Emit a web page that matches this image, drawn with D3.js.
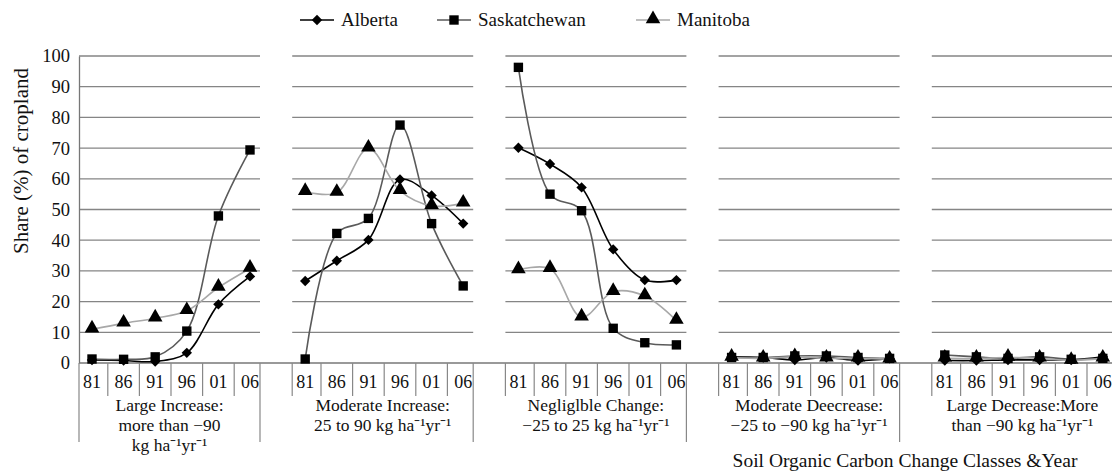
<!DOCTYPE html>
<html>
<head>
<meta charset="utf-8">
<script src="https://cdn.jsdelivr.net/npm/d3@7"></script>
<style>
  html, body { margin: 0; padding: 0; background: #fff; }
  svg { display: block; font-family: "Liberation Serif", "Times New Roman", serif; }
</style>
</head>
<body>
<svg id="chart" width="1112" height="472"></svg>
<script>
// Census years shown under every change class
const years = ["81", "86", "91", "96", "01", "06"];

// Soil organic carbon change classes (label lines for each class)
const classLabels = [
  ["Large Increase:", "more than \u221290", "kg ha\u207B\u00B9yr\u207B\u00B9"],
  ["Moderate Increase:", "25 to 90 kg ha\u207B\u00B9yr\u207B\u00B9"],
  ["Negliglble Change:", "\u221225 to 25 kg ha\u207B\u00B9yr\u207B\u00B9"],
  ["Moderate Deecrease:", "\u221225 to \u221290 kg ha\u207B\u00B9yr\u207B\u00B9"],
  ["Large Decrease:More", "than \u221290 kg ha\u207B\u00B9yr\u207B\u00B9"]
];

// Share (%) of cropland, one row per change class, one value per year
const albertaShare = [
  [1.0, 0.8, 0.5, 3.3, 19.1, 28.2],
  [26.7, 33.3, 40.1, 59.8, 54.6, 45.4],
  [70.1, 64.8, 57.2, 37.0, 27.0, 27.0],
  [2.0, 1.8, 1.0, 1.8, 0.8, 1.5],
  [0.8, 0.8, 1.0, 1.0, 1.0, 2.0]
];
const saskatchewanShare = [
  [1.3, 1.2, 2.0, 10.4, 47.9, 69.4],
  [1.3, 42.2, 47.1, 77.5, 45.4, 25.1],
  [96.3, 55.0, 49.6, 11.3, 6.6, 5.9],
  [1.8, 1.8, 2.3, 2.3, 1.8, 1.5],
  [2.6, 2.0, 1.5, 2.0, 1.2, 1.5]
];
const manitobaShare = [
  [11.0, 12.9, 14.6, 17.0, 24.6, 30.8],
  [55.8, 55.5, 69.9, 56.1, 51.2, 52.0],
  [30.3, 30.7, 14.9, 23.2, 21.8, 13.8],
  [1.8, 1.5, 2.0, 1.5, 1.5, 1.2],
  [1.5, 1.5, 1.8, 1.5, 0.8, 1.5]
];

const yTicks = [0, 10, 20, 30, 40, 50, 60, 70, 80, 90, 100];
const provinceNames = ["Alberta", "Saskatchewan", "Manitoba"];

const series = [
  { name: provinceNames[0], values: albertaShare, stroke: "#000000", symbol: "diamond" },
  { name: provinceNames[1], values: saskatchewanShare, stroke: "#5a5a5a", symbol: "square" },
  { name: provinceNames[2], values: manitobaShare, stroke: "#a8a8a8", symbol: "triangle" }
];

const svg = d3.select("#chart");
const FONT = 18;

// vertical scale
const y = d3.scaleLinear().domain([0, 100]).range([363, 56]);

// panel geometry
const panelLeft = 79, panelStep = 213.2, panelWidth = 181;
const panels = classLabels.map((lab, i) => {
  const x0 = panelLeft + i * panelStep;
  const x = d3.scalePoint().domain(years).range([x0 + 13, x0 + panelWidth - 10]);
  return { i, x0, x1: x0 + panelWidth, x, label: lab };
});

// gridlines, drawn per panel
const grid = svg.append("g");
panels.forEach(p => {
  grid.selectAll(null).data(yTicks.filter(v => v > 0)).join("line")
    .attr("x1", p.x0).attr("x2", p.x1)
    .attr("y1", d => y(d)).attr("y2", d => y(d))
    .attr("stroke", "#858585").attr("stroke-width", 1.3);
});

// y axis
const yAxis = svg.append("g").attr("transform", `translate(${panelLeft},0)`)
  .call(d3.axisLeft(y).tickValues(yTicks).tickSize(0).tickPadding(9));
yAxis.select(".domain").attr("stroke", "#777").attr("stroke-width", 1.3);
yAxis.selectAll("text").attr("font-size", FONT + 0.5).attr("font-family", "Liberation Serif").attr("fill", "#111");

// x baseline
svg.append("line")
  .attr("x1", panelLeft).attr("x2", 1112)
  .attr("y1", y(0)).attr("y2", y(0))
  .attr("stroke", "#777").attr("stroke-width", 1.3);

// category separators and labels
const xg = svg.append("g");
panels.forEach(p => {
  const pts = years.map(d => p.x(d));
  const seps = [p.x0];
  for (let k = 0; k < pts.length - 1; k++) seps.push((pts[k] + pts[k + 1]) / 2);
  seps.push(p.x1);
  seps.forEach((sx, k) => {
    const long = (k === seps.length - 1) || (p.i === 0 && k === 0);
    xg.append("line")
      .attr("x1", sx).attr("x2", sx)
      .attr("y1", y(0)).attr("y2", long ? 442 : 396)
      .attr("stroke", "#888").attr("stroke-width", 1.2);
  });
  xg.selectAll(null).data(years).join("text")
    .attr("x", d => p.x(d)).attr("y", 388)
    .attr("text-anchor", "middle")
    .attr("font-size", FONT).attr("fill", "#111")
    .text(d => d);

  // class label lines
  const cx = (p.x0 + p.x1) / 2;
  xg.selectAll(null).data(p.label).join("text")
    .attr("x", cx).attr("y", (d, li) => 411 + li * 20)
    .attr("text-anchor", "middle")
    .attr("font-size", 17.5).attr("fill", "#111")
    .text(d => d);
});

// marker shapes
function marker(sel, kind) {
  if (kind === "diamond") {
    sel.append("path").attr("d", d3.symbol(d3.symbolSquare, 54)())
      .attr("transform", "rotate(45)");
  } else if (kind === "square") {
    sel.append("path").attr("d", d3.symbol(d3.symbolSquare, 88)());
  } else {
    sel.append("path").attr("d", d3.symbol(d3.symbolTriangle, 92)())
      .attr("transform", "translate(0,-1)");
  }
  sel.selectAll("path").attr("fill", "#000");
}

// smoothed province lines, one per panel
const plot = svg.append("g");
series.forEach(s => {
  panels.forEach(p => {
    const vals = s.values[p.i];
    const line = d3.line()
      .x((d, k) => p.x(years[k]))
      .y(d => y(d))
      .curve(d3.curveCatmullRom.alpha(0.5));
    plot.append("path").datum(vals)
      .attr("d", line)
      .attr("fill", "none")
      .attr("stroke", s.stroke)
      .attr("stroke-width", 1.6);
  });
});
series.forEach(s => {
  panels.forEach(p => {
    s.values[p.i].forEach((v, k) => {
      const g = plot.append("g").attr("transform", `translate(${p.x(years[k])},${y(v)})`);
      marker(g, s.symbol);
    });
  });
});

// legend
const legendPos = [300, 437, 636];
const legend = svg.append("g");
series.forEach((s, i) => {
  const lx = legendPos[i], ly = 20;
  legend.append("line").attr("x1", lx).attr("x2", lx + 34).attr("y1", ly).attr("y2", ly)
    .attr("stroke", s.stroke).attr("stroke-width", 1.6);
  const g = legend.append("g").attr("transform", `translate(${lx + 17},${ly})`);
  marker(g, s.symbol);
  legend.append("text").attr("x", lx + 41).attr("y", ly + 6)
    .attr("font-size", FONT + 1).attr("fill", "#111").text(s.name);
});

// axis titles
svg.append("text")
  .attr("transform", "translate(28,161) rotate(-90)")
  .attr("text-anchor", "middle")
  .attr("font-size", 21).attr("fill", "#111")
  .text("Share (%) of cropland");

svg.append("text")
  .attr("x", 905).attr("y", 467)
  .attr("text-anchor", "middle")
  .attr("font-size", 19.5).attr("fill", "#111")
  .text("Soil Organic Carbon Change Classes &Year");
</script>
</body>
</html>
